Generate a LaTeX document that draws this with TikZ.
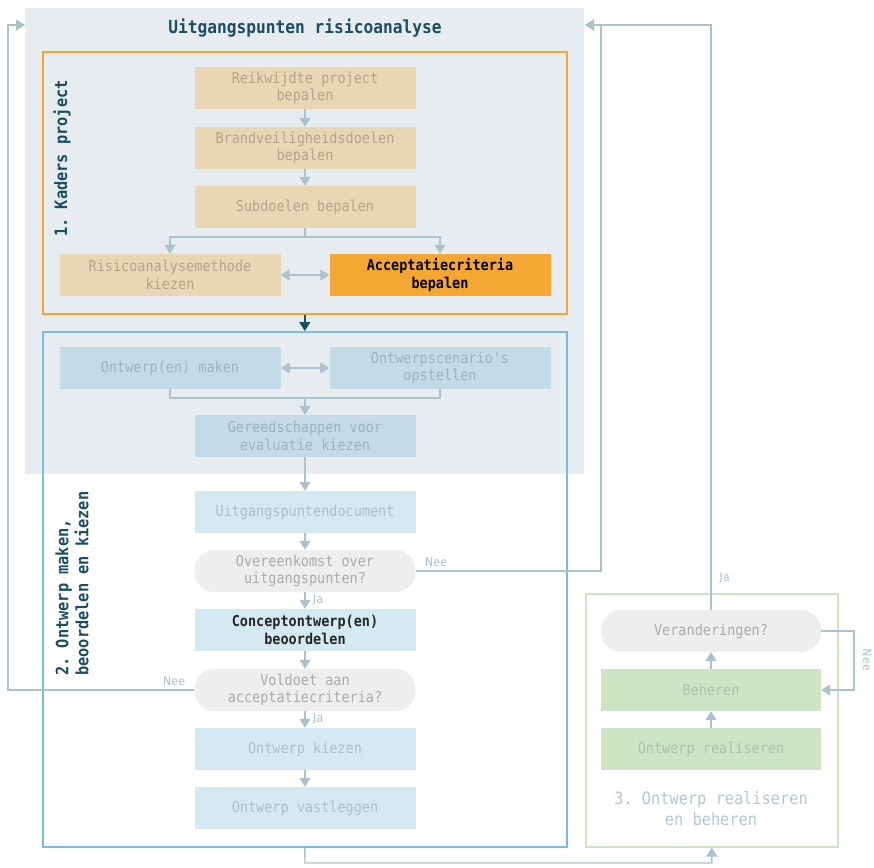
\documentclass[tikz,border=0pt]{standalone}
\usepackage{fontspec}
\setmonofont[FakeStretch=0.9]{DejaVu Sans Mono}
\newfontfamily\lblfont{Fira Sans}
\usetikzlibrary{arrows.meta}
\definecolor{greybg}{HTML}{E6ECF0}
\definecolor{orng}{HTML}{F5A733}
\definecolor{tan}{HTML}{EBD6B4}
\definecolor{tantext}{HTML}{B4A389}
\definecolor{blueA}{HTML}{C3DBE7}
\definecolor{blueAtext}{HTML}{9DB2BE}
\definecolor{blueB}{HTML}{D5E9F2}
\definecolor{blueBtext}{HTML}{B0BEC5}
\definecolor{pill}{HTML}{EEEEEE}
\definecolor{pilltext}{HTML}{AAAAAA}
\definecolor{arrc}{HTML}{ABC2CD}
\definecolor{darkteal}{HTML}{1B4D63}
\definecolor{grn}{HTML}{CDE5C4}
\definecolor{grntext}{HTML}{B0BFAD}
\definecolor{bluestroke}{HTML}{7DBADF}
\definecolor{lbl3}{HTML}{B0C8D6}
\definecolor{neeja}{HTML}{A9C4D3}
\tikzset{
  every node/.style={inner sep=0pt},
  stepbox/.style={minimum width=221pt, minimum height=42pt, align=center,
    font=\ttfamily\fontsize{15}{17.5}\selectfont},
  tanbox/.style={stepbox, fill=tan, text=tantext},
  bluebox/.style={stepbox, fill=blueA, text=blueAtext},
  lbluebox/.style={stepbox, fill=blueB, text=blueBtext},
  pillbox/.style={stepbox, fill=pill, text=pilltext, rounded corners=20pt},
  grnbox/.style={stepbox, fill=grn, text=grntext},
  frame/.style={draw, line width=1.6pt},
  conn/.style={draw=arrc, line width=1.4pt},
  arr/.style={conn, -{Triangle[width=11pt,length=9pt]}},
  darr/.style={conn, {Triangle[width=11pt,length=9pt]}-{Triangle[width=11pt,length=9pt]}},
  yn/.style={font=\lblfont\fontsize{12.5}{14}\selectfont, text=neeja},
  grouplbl/.style={font=\ttfamily\bfseries\fontsize{17}{20}\selectfont, text=darkteal},
}
\begin{document}
\begin{tikzpicture}[x=1pt,y=-1pt]
\useasboundingbox (0,0) rectangle (874,867);
% grey panel
\node[fill=greybg, minimum width=559pt, minimum height=466pt, anchor=north west] (panel) at (25,8) {};
\node[font=\ttfamily\bfseries\fontsize{18}{20}\selectfont, text=darkteal] (title) at (305,28) {Uitgangspunten risicoanalyse};
% frames
\node[frame, draw=orng, minimum width=524pt, minimum height=262pt, anchor=north west] (kader) at (42,51) {};
\node[frame, draw=bluestroke, minimum width=524pt, minimum height=515pt, anchor=north west] (ontw) at (42,331) {};
\node[frame, draw=grn, minimum width=252pt, minimum height=253pt, anchor=north west] (real) at (585,593) {};
% group labels
\node[grouplbl, rotate=90, anchor=west] (l1) at (62,237) {1. Kaders project};
\node[grouplbl, rotate=90, anchor=west, align=left] (l2) at (72,676) {2. Ontwerp maken,\\beoordelen en kiezen};
\node[font=\ttfamily\fontsize{17}{21}\selectfont, text=lbl3, align=center] (l3) at (711,809) {3. Ontwerp realiseren\\en beheren};
% stage 1
\node[tanbox] (reik) at (305,88) {Reikwijdte project\\bepalen};
\node[tanbox] (brand) at (305,148) {Brandveiligheidsdoelen\\bepalen};
\node[tanbox] (sub) at (305,207) {Subdoelen bepalen};
\node[tanbox] (risico) at (170,275) {Risicoanalysemethode\\kiezen};
\node[stepbox, fill=orng, text=black, font=\ttfamily\bfseries\fontsize{15}{17.5}\selectfont] (accept) at (440,275) {Acceptatiecriteria\\bepalen};
% stage 2
\node[bluebox] (maken) at (170,368) {Ontwerp(en) maken};
\node[bluebox] (scen) at (440,368) {Ontwerpscenario's\\opstellen};
\node[bluebox] (gereed) at (305,436) {Gereedschappen voor\\evaluatie kiezen};
\node[lbluebox] (uitg) at (305,512) {Uitgangspuntendocument};
\node[pillbox] (overeen) at (305,571) {Overeenkomst over\\uitgangspunten?};
\node[lbluebox, text=black!85, font=\ttfamily\bfseries\fontsize{15}{17.5}\selectfont] (concept) at (305,630) {Conceptontwerp(en)\\beoordelen};
\node[pillbox] (voldoet) at (305,690) {Voldoet aan\\acceptatiecriteria?};
\node[lbluebox] (kiezen) at (305,749) {Ontwerp kiezen};
\node[lbluebox] (vast) at (305,808) {Ontwerp vastleggen};
% stage 3
\node[pillbox, minimum width=220pt] (veran) at (711,631) {Veranderingen?};
\node[grnbox, minimum width=220pt] (beheer) at (711,690) {Beheren};
\node[grnbox, minimum width=220pt] (realis) at (711,749) {Ontwerp realiseren};
% coordinates
\coordinate (j1) at (305,237);
\coordinate (j2) at (305,398);
\coordinate (inR) at (585,25);
\coordinate (inL) at (25,25);
\coordinate (cR) at (601,571);
\coordinate (cL) at (8,690);
\coordinate (cB) at (305,863);
\coordinate (cN) at (854,631);
% connectors stage 1
\draw[arr] (reik) -- (brand);
\draw[arr] (brand) -- (sub);
\draw[conn] (sub.south) -- (j1);
\draw[arr] (j1) -| (risico.north);
\draw[arr] (j1) -| (accept.north);
\draw[darr] (risico.east) -- (accept.west);
\draw[draw=darkteal, line width=1.4pt, -{Triangle[width=11pt,length=9pt]}] (kader.south) -- (ontw.north);
% stage 2
\draw[darr] (maken.east) -- (scen.west);
\draw[conn] (maken.south) |- (j2) -| (scen.south);
\draw[arr] (j2) -- (gereed.north);
\draw[arr] (gereed) -- (uitg);
\draw[arr] (uitg) -- (overeen);
\draw[arr] (overeen) -- node[yn, anchor=west, xshift=7pt] {Ja} (concept);
\draw[arr] (concept) -- (voldoet);
\draw[arr] (voldoet) -- node[yn, anchor=west, xshift=7pt] {Ja} (kiezen);
\draw[arr] (kiezen) -- (vast);
% feedback loops
\draw[arr] (overeen.east) -- (cR) |- (inR);
\node[yn] (nee1) at (436,562) {Nee};
\draw[arr] (voldoet.west) -- (cL) |- (inL);
\node[yn] (nee2) at (174,681) {Nee};
\draw[arr] (ontw.south) -- (cB) -| (real.south);
\draw[arr] (realis) -- (beheer);
\draw[arr] (beheer) -- (veran);
\draw[arr] (veran.north) |- (inR);
\node[yn, anchor=west] (ja3) at (719,578) {Ja};
\draw[arr] (veran.east) -- (cN) |- (beheer.east);
\node[yn, rotate=-90] (nee3) at (867,660) {Nee};
\end{tikzpicture}
\end{document}
